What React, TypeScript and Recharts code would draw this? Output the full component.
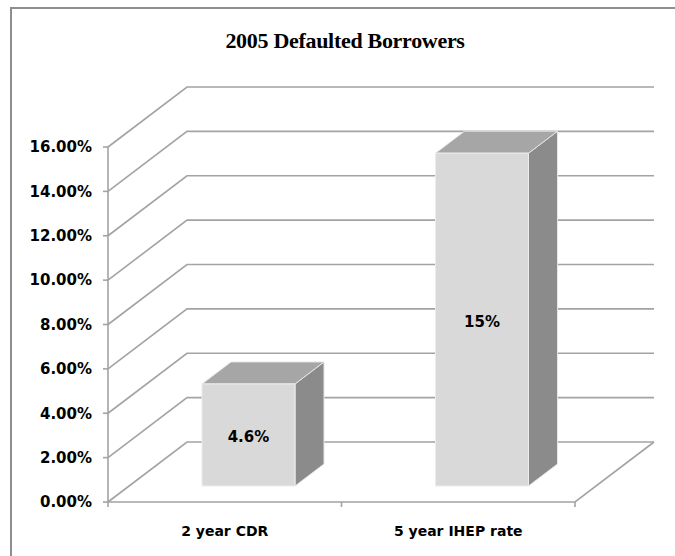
import React from "react";
import { BarChart, Bar, XAxis, YAxis, CartesianGrid, ReferenceLine, LabelList } from "recharts";

const categories = ["2 year CDR", "5 year IHEP rate"];
const rates = [4.6, 15];
const yTicks = [0, 2, 4, 6, 8, 10, 12, 14, 16];

const data = categories.map((name, i) => ({ name, rate: rates[i] }));

// depth of the walls/floor and of each box
const WALL_DX = 79;
const WALL_DY = 60;
const BAR_OX = 24;
const BAR_OY = 16;
const BOX_DX = 29;
const BOX_DY = 22;

const GRID = "#a3a3a3";
const FONT = "'DejaVu Sans', Verdana, sans-serif";

function WallLine(props: any) {
  const { x1, y1, x2 } = props;
  const bx = x1 + WALL_DX;
  const by = y1 - WALL_DY;
  return (
    <path
      key={props.key}
      d={`M${x1},${y1} L${bx},${by} L${x2 + WALL_DX},${by}`}
      fill="none"
      stroke={GRID}
      strokeWidth={1.6}
    />
  );
}

function FloorEdge(props: any) {
  const { x1, y1, x2 } = props;
  const mid = (x1 + x2) / 2;
  return (
    <g>
      <path
        d={`M${x1},${y1} L${x2},${y1} L${x2 + WALL_DX},${y1 - WALL_DY}`}
        fill="none"
        stroke={GRID}
        strokeWidth={1.6}
      />
      {[x1, mid, x2].map((tx, i) => (
        <line key={i} x1={tx} y1={y1} x2={tx} y2={y1 + 5} stroke={GRID} strokeWidth={1.6} />
      ))}
    </g>
  );
}

function Box(props: any) {
  const { x, y, width, height } = props;
  const fx = x + BAR_OX;
  const fy = y - BAR_OY;
  const rx = fx + width;
  return (
    <g>
      <polygon
        points={`${rx},${fy} ${rx + BOX_DX},${fy - BOX_DY} ${rx + BOX_DX},${fy + height - BOX_DY} ${rx},${fy + height}`}
        fill="#8b8b8b"
        stroke="#e6e6e6"
        strokeWidth={1}
      />
      <polygon
        points={`${fx},${fy} ${fx + BOX_DX},${fy - BOX_DY} ${rx + BOX_DX},${fy - BOX_DY} ${rx},${fy}`}
        fill="#a6a6a6"
        stroke="#e6e6e6"
        strokeWidth={1}
      />
      <rect x={fx} y={fy} width={width} height={height} fill="#d9d9d9" stroke="#ececec" strokeWidth={1} />
    </g>
  );
}

function BoxLabel(props: any) {
  const { x, y, width, height, value } = props;
  return (
    <text
      x={x + width / 2 + BAR_OX}
      y={y + height / 2 - BAR_OY + 2}
      textAnchor="middle"
      dominantBaseline="central"
      fontFamily={FONT}
      fontWeight="bold"
      fontSize={15}
      fill="#000"
    >
      {`${value}%`}
    </text>
  );
}

export default function App() {
  return (
    <div style={{ position: "absolute", left: 0, top: 0, width: 675, height: 556, overflow: "hidden", background: "#fff" }}>
      <div
        style={{
          position: "absolute",
          left: 10,
          top: 7,
          width: 700,
          height: 600,
          border: "2px solid #8e8e8e",
        }}
      />
      <div
        style={{
          position: "absolute",
          left: 0,
          width: 690,
          top: 28,
          textAlign: "center",
          fontFamily: "'Liberation Serif', 'Times New Roman', serif",
          fontWeight: "bold",
          fontSize: 22,
          letterSpacing: -0.3,
          color: "#000",
        }}
      >
        2005 Defaulted Borrowers
      </div>
      <div style={{ position: "absolute", left: 0, top: 0 }}>
        <BarChart
          width={675}
          height={556}
          data={data}
          margin={{ top: 147, right: 100, bottom: 14, left: 10 }}
          barSize={93}
        >
          <CartesianGrid vertical={false} horizontal={WallLine} />
          <XAxis
            dataKey="name"
            height={40}
            axisLine={false}
            tickLine={false}
            tickMargin={18}
            tick={{ fontFamily: FONT, fontWeight: "bold", fontSize: 14, fill: "#000" }}
          />
          <YAxis
            width={98}
            domain={[0, 16]}
            ticks={yTicks}
            interval={0}
            tickFormatter={(v: number) => `${v.toFixed(2)}%`}
            axisLine={{ stroke: GRID, strokeWidth: 1.6 }}
            tickLine={{ stroke: GRID, strokeWidth: 1.6 }}
            tickSize={5}
            tickMargin={11}
            tick={{ fontFamily: FONT, fontWeight: "bold", fontSize: 15, fill: "#000" }}
          />
          <ReferenceLine y={0} ifOverflow="visible" shape={FloorEdge} />
          <Bar dataKey="rate" shape={Box} isAnimationActive={false}>
            <LabelList dataKey="rate" content={BoxLabel} />
          </Bar>
        </BarChart>
      </div>
    </div>
  );
}
